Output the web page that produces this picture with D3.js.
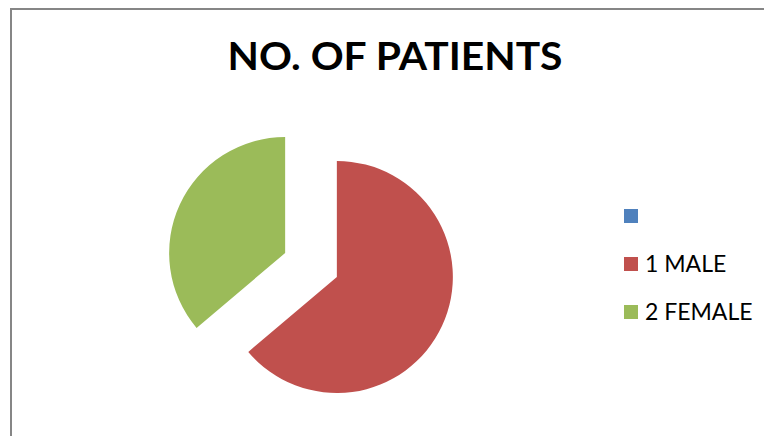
<!DOCTYPE html>
<html>
<head>
<meta charset="utf-8">
<script src="https://cdn.jsdelivr.net/npm/d3@7"></script>
<style>
  html, body { margin: 0; padding: 0; background: #fff; }
  svg { display: block; }
</style>
</head>
<body>
<svg id="chart" width="764" height="436"></svg>
<script>
// Patient counts by sex (first row is an unlabeled header entry with no value)
const categories = ["", "1 MALE", "2 FEMALE"];
const patients = [0, 60, 34];
const colors = ["#4F81BD", "#C0504D", "#9BBB59"];
const title = "NO. OF PATIENTS";

const svg = d3.select("#chart");

// chart frame
svg.append("rect")
  .attr("x", 11).attr("y", 9)
  .attr("width", 800).attr("height", 500)
  .attr("fill", "#fff")
  .attr("stroke", "#868686")
  .attr("stroke-width", 2);

// title
svg.append("text")
  .attr("x", 395).attr("y", 70)
  .attr("text-anchor", "middle")
  .attr("font-family", "Lato, 'Open Sans', sans-serif")
  .attr("font-weight", "bold")
  .attr("font-size", 38)
  .attr("textLength", 335)
  .attr("lengthAdjust", "spacingAndGlyphs")
  .attr("fill", "#000")
  .text(title);

// exploded pie
const cx = 311, cy = 265, radius = 116, explode = 28.5;
const pie = d3.pie().sort(null).value(d => d.value);
const arc = d3.arc().innerRadius(0).outerRadius(radius);
const data = categories.map((c, i) => ({ name: c, value: patients[i], color: colors[i] }));

svg.append("g")
  .attr("transform", `translate(${cx},${cy})`)
  .selectAll("path")
  .data(pie(data).filter(d => d.value > 0))
  .join("path")
  .attr("d", arc)
  .attr("fill", d => d.data.color)
  .attr("transform", d => {
    const mid = (d.startAngle + d.endAngle) / 2;
    return `translate(${Math.sin(mid) * explode},${-Math.cos(mid) * explode})`;
  });

// legend
const legend = svg.append("g")
  .selectAll("g")
  .data(data)
  .join("g")
  .attr("transform", (d, i) => `translate(624,${209 + i * 48})`);

legend.append("rect")
  .attr("width", 14).attr("height", 14)
  .attr("fill", d => d.color);

legend.append("text")
  .attr("x", 21).attr("y", 15)
  .attr("font-family", "Lato, 'Open Sans', sans-serif")
  .attr("font-size", 23)
  .attr("fill", "#000")
  .text(d => d.name);
</script>
</body>
</html>
